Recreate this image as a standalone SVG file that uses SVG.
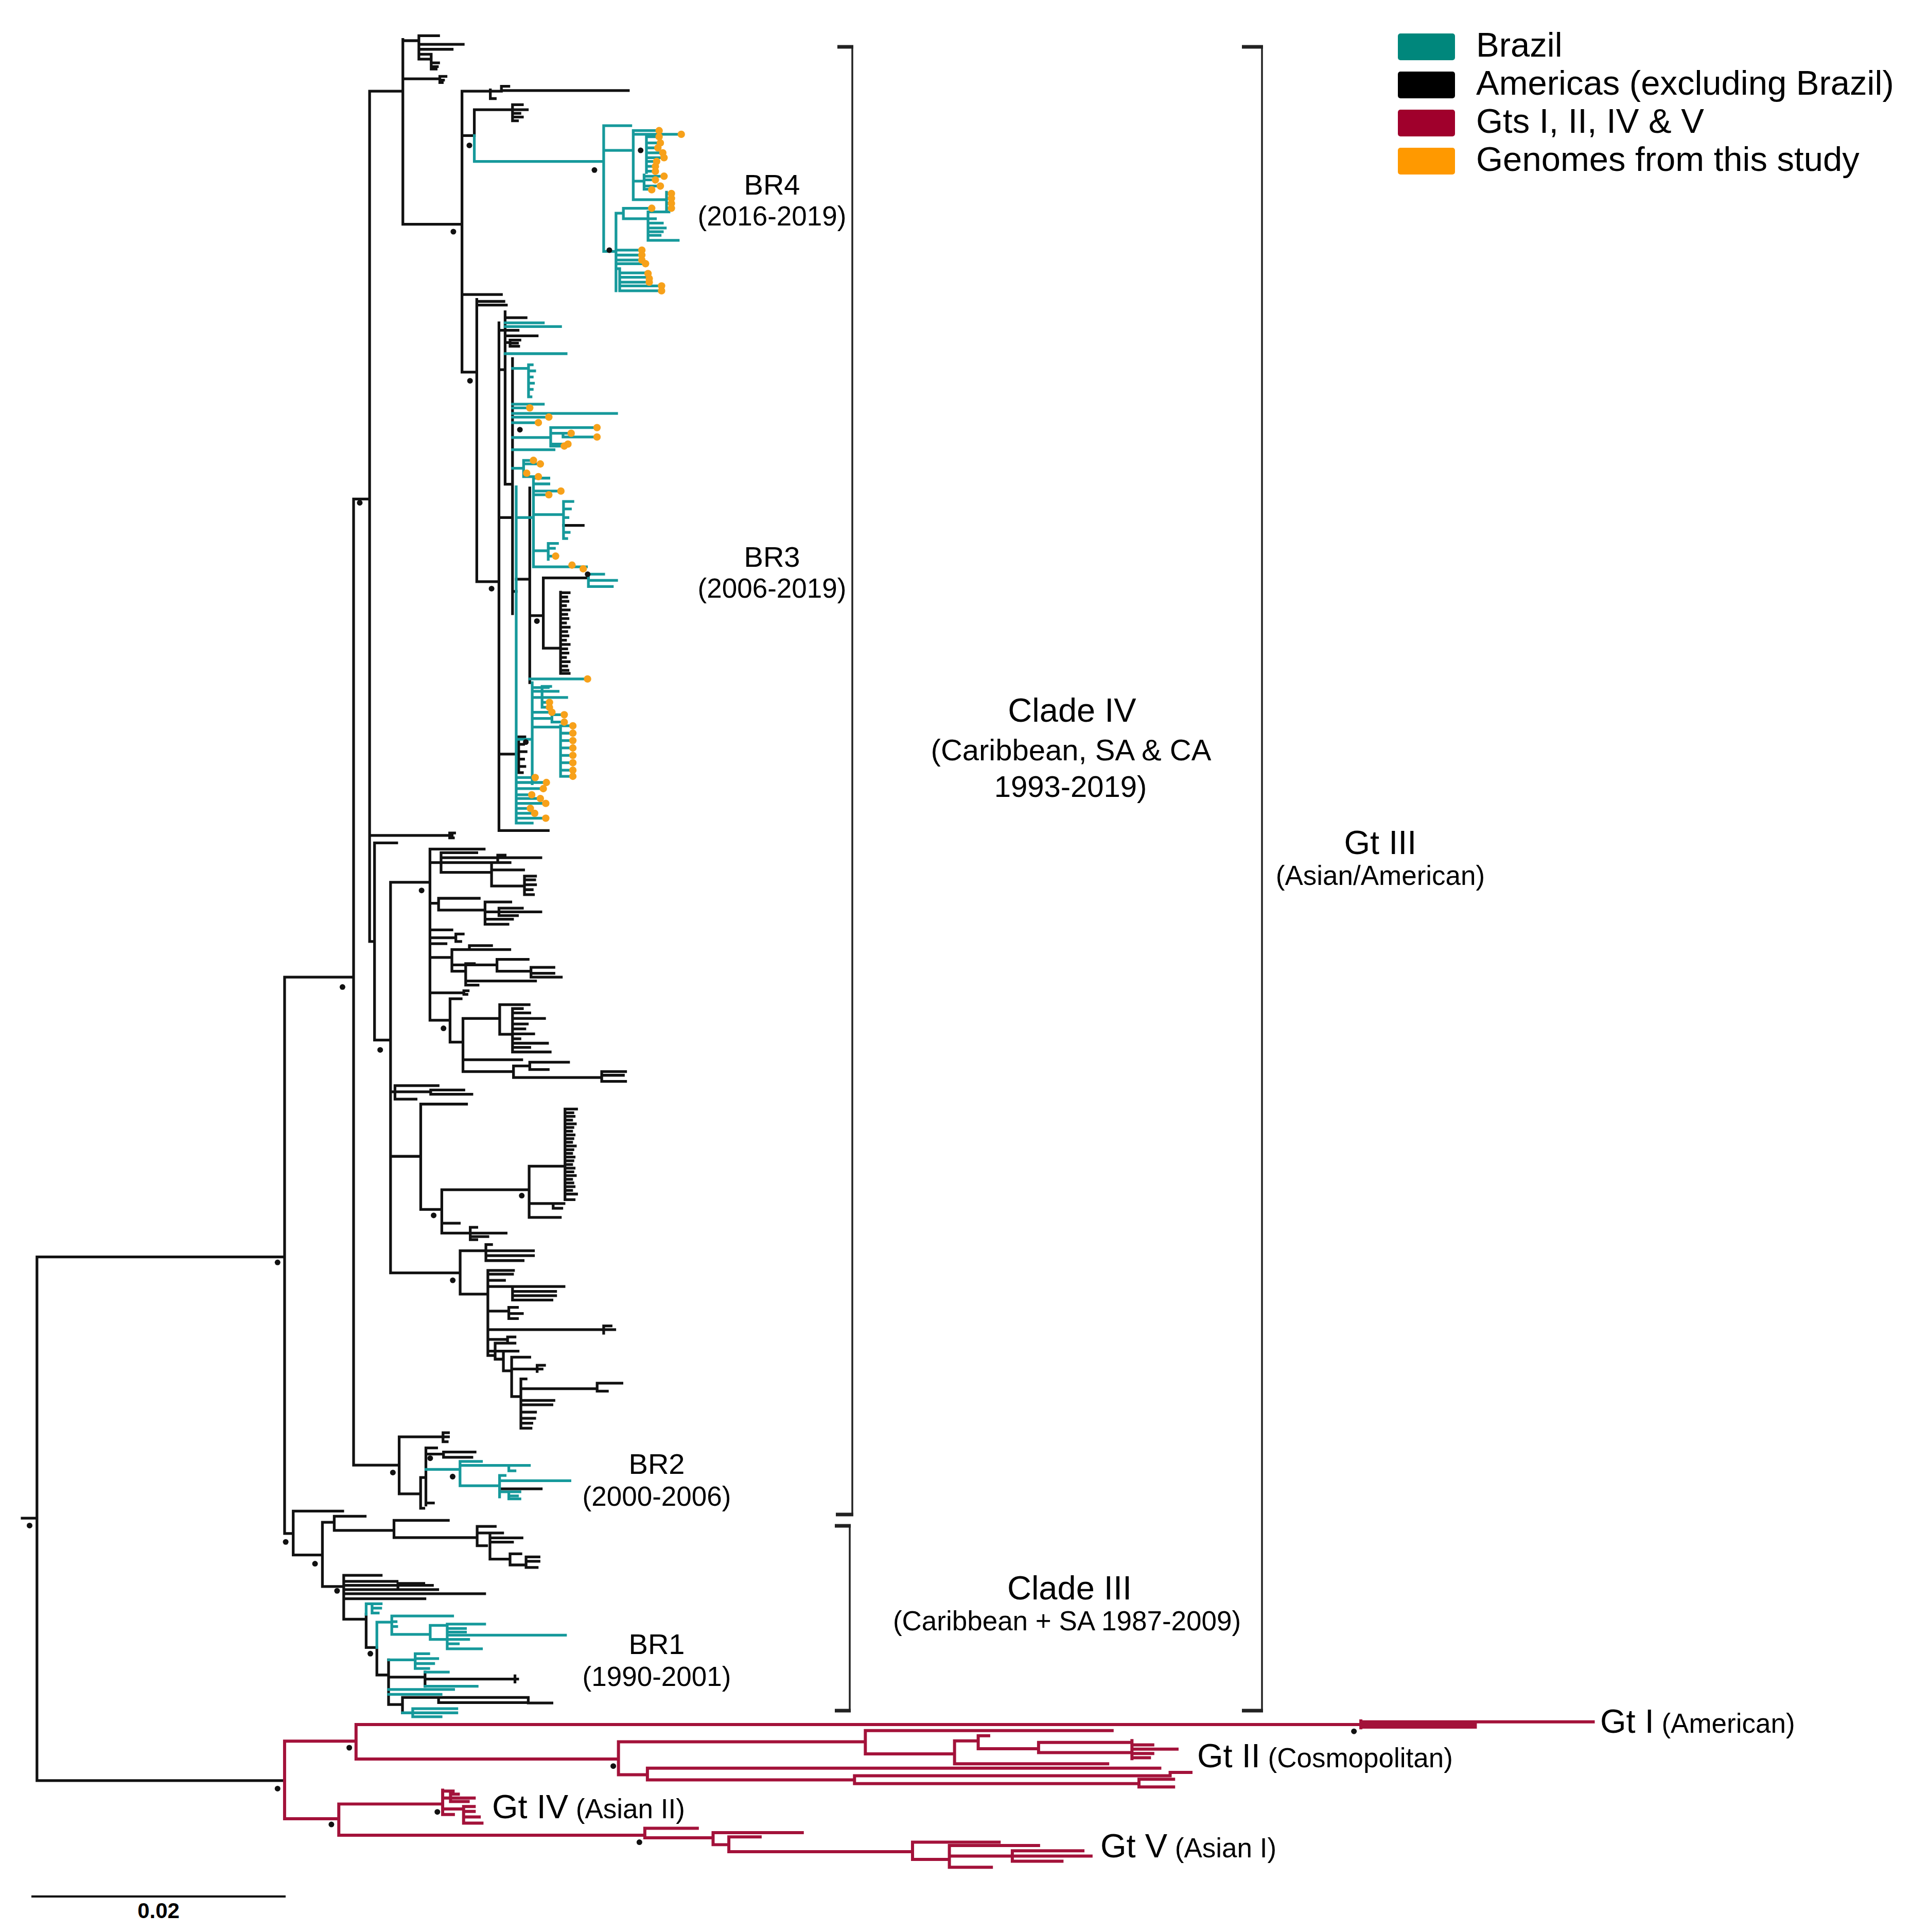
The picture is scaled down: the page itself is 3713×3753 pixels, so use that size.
<svg xmlns="http://www.w3.org/2000/svg" width="3713" height="3753" viewBox="0 0 3713 3753">
<style>
.k{fill:none;stroke:#111;stroke-width:2.2;stroke-linecap:square}
.t{fill:none;stroke:#16999b;stroke-width:2.2;stroke-linecap:square}
.r{fill:none;stroke:#a3123a;stroke-width:2.5;stroke-linecap:square}
.o{fill:#f7a11a}
.d{fill:#111}
.br{fill:none;stroke:#222;stroke-width:3.5}
.tk{stroke:#222;stroke-width:7}
text{font-family:"Liberation Sans",Arial,sans-serif;fill:#000}
.c{text-anchor:middle}
</style>
<rect width="3713" height="3753" fill="#fff"/>
<g id="connectors" transform="scale(2.3937)">
<path id="black-branches" class="k" d="M18 1232H30M30 1020V1445M30 1020H231M30 1445H231M231 793V1244.5M231 793H287M231 1244.5H238M287 405V1189M287 405H300M287 1189H324M300 74V764M300 74H327M300 678H367M365 676V680M365 676H369M365 680H368M300 764H304
M327 32V182M327 33H340M340 29V48M340 29H356M340 36H376M340 40H367M340 44H350M340 48H350M350 44V56M350 51H356M350 54H355M350 56H354M327 64H357M357 62V67M357 62H362M357 65H360M357 67H359M327 182H375
M375 74V302M375 74H398M398 73V80M398 80H402M398 74H407M407 70V74M407 70H413M407 73.5H510M375 110H385M385 89V110M385 89H416M416 85V98M416 85H424M416 89H428M416 92H422M416 95H424M416 98H420M375 239H407M375 302H387
M387 243V472M387 244.6H409M387 247.6H411M387 472H405M405 262V674M405 268H420.5M405 674H445M405 300H410M410 253V393M410 257.8H427M410 272.5H436M410 278H414M414 276V281M414 276H422M414 278.5H420M414 281H421M410 393H414M405 420H416M416 291V498M416 480H419M419 470H430M430 396V554M430 499.6H441M441 469V526M441 469H477.6M441 526H455M455 480.6V546.5
M455 481H462M455 484.5H460M455 488H461M455 491.5H459M455 495H462M455 498.5H460M455 502H461M455 505.5H459M455 509H462M455 512.5H460M455 516H461M455 519.5H459M455 523H462M455 526.5H460M455 530H461M455 533.5H459M455 537H462M455 540.5H460M455 544H461M455 546.5H462
M457.4 426.4H473.4M405 612H421M421 598V627M421 598H426M421 604H425M421 610H427M421 616H425M421 622H426M421 627H424
M304 684V844M304 684H322M304 844H317M317 716V1033M317 716H349
M349 689V828M349 689H393M349 700H358M358 692V708M358 692H387M358 696H439M404 694V698M404 694H410M358 700H414M358 708H399M399 702V719M399 706H425M399 719H425.7M425.7 711V726M425.7 711H434.7M425.7 714H434M425.7 718H434.7M425.7 722H432M425.7 726H433M349 733H356M356 729V738.6M356 729H389M356 738.6H393.7M393.7 732V750M393.7 732H414.6M393.7 740H405M405 737V743M405 737H424M405 740H439M405 743H420M393.7 746H416M393.7 750H412.3M349 754.6H366.8M349 761H370M370 758V764M370 758H376M370 764H374M349 765.8H362M349 777H366.8M366.8 770.6V788.2M366.8 770.6H413.8M381 767.4V770.6M381 767.4H399M366.8 783H403.4M403.4 778.6V788.2M403.4 778.6H428.7M403.4 788.2H431M431 785V793M431 785H449.6M431 789.8H449.6M431 793H455.6M366.8 788.2H378M378 782V799.4M378 782H385M378 796.1H434.7M378 799.4H388M349 805.7H376.5M376.5 804V807M376.5 804H380M376.5 807H379M349 828H365.3M365.3 810.5V845.7M365.3 810.5H374.3M365.3 845.7H375.8M375.8 826.5V869.6M375.8 826.5H405.6M405.6 815.3V839.3M405.6 815.3H429.5M405.6 839.3H416M416 818.5V853.7M416 818.5H424M416 822H430M416 826.5H442M416 831H428M416 835H426M416 839H433.2M416 843H422M416 846.6H444.4M416 850H430M416 853.7H446.6M375.8 860H423.5M375.8 869.6H416.8M416.8 865V874.4M416.8 865H430M430 862V868M430 862H461.5M430 868H445M416.8 874.4H488.4M488.4 869.6V877.6M488.4 869.6H507.8M488.4 872.6H506M488.4 877.6H507.8
M317 886H320.6M320.6 881V892M320.6 881H355.6M320.6 886H349.6M349.6 884.6V888M349.6 884.6H376.5M349.6 888H383M320.6 892H337.7M317 938.4H341.5M341.5 896V981.5M341.5 896H378.7M341.5 981.5H358.6M358.6 965.5V1000.7M358.6 965.5H429.5M429.5 946.4V988M429.5 946.4H458.6M458.6 900V973.5
M458.6 900H468M458.6 903H465M458.6 906H466M458.6 909H464M458.6 912H467M458.6 915H465M458.6 918H464M458.6 921H466M458.6 924H465M458.6 927H464M458.6 930H467M458.6 933H465M458.6 936H464M458.6 939H466M458.6 942H465M458.6 945H464M458.6 948H466M458.6 951H465M458.6 954H467M458.6 957H464M458.6 960H465M458.6 963H466M458.6 966H464M458.6 969H468M458.6 973.5H466
M429.5 976.7H457.8M449 976.7V980.5M449 980.5H456M429.5 988H454.8M358.6 992.7H372.8M358.6 1000.7H381.7M381.7 996V1006M381.7 996H387M381.7 1000.7H410.8M381.7 1003.5H396M381.7 1006H387
M317 1033H373.5M373.5 1015V1050.2M373.5 1015H394.4M394.4 1010V1023M394.4 1010H399M394.4 1015H433M394.4 1019H433M394.4 1023H424.6M373.5 1050.2H396M396 1031V1100M396 1031H416.8M396 1034H416M396 1039H409.5M396 1044H457.8M416 1044V1055M416 1048H451M416 1051.5H451M416 1055H448M396 1064H413M413 1061V1070M413 1061H420M413 1066H424M413 1070H420M396 1079H499M490 1076V1082M490 1076H496M396 1087H412M412 1085V1090M412 1085H418M412 1090H418M396 1096.5H420.5M396 1100H401.9M401.9 1090V1103M401.9 1090H410M401.9 1103H408.6M408.6 1096.5V1112.5M408.6 1112.5H415.3M415.3 1101.4V1133.3M415.3 1101.4H430M415.3 1111H440M436 1108V1113M436 1108H442M415.3 1133.3H422.8M422.8 1119V1159M422.8 1119H427M422.8 1127H484.7M484.7 1122.5V1129M484.7 1122.5H504.8M484.7 1129H493M422.8 1136.5H449.6M422.8 1140H448M422.8 1146H434.7M422.8 1151H434M422.8 1155H431.7M422.8 1159H431
M324 1166V1212.3M324 1166H359.6M359.6 1162.7V1170M359.6 1162.7H364M359.6 1166H364M359.6 1170H363M324 1212.3H341.4M341.4 1199V1224M341.4 1224H344M341.4 1199H345.7M345.7 1175V1221.4M345.7 1175H354.4M345.7 1180H360M360 1178.4V1182.6M360 1178.4H385.6M360 1182.6H383M345.7 1219.7H351.8M405.5 1208.2H439.3
M238 1226.3V1261.9M238 1226.3H278.2M238 1261.9H261.7M261.7 1235.4V1287.5M261.7 1235.4H271.3M271.3 1230.5V1242M271.3 1230.5H296.4M271.3 1242H319.8M319.8 1233.8V1247.8M319.8 1233.8H363.9M319.8 1247.8H387.3M387.3 1238.7V1254.4M387.3 1238.7H402M387.3 1244H397.7M397.7 1244V1265.2M397.7 1244H408M397.7 1248H423.7M397.7 1251.5H416M397.7 1265.2H414M414 1261V1270M414 1261H422.8M414 1270H427M427 1263.5V1272M427 1263.5H437.5M427 1267H437.5M427 1272H436M387.3 1254.4H395M261.7 1287.5H279M279 1278.4V1314M279 1278.4H309.4M279 1283.3H322.3M279 1286.6H351M323 1285V1288.5M323 1285H344M279 1290H355.3M279 1293.3H393.4M279 1297.4H344.9M279 1314H297.2M297.2 1310V1337M297.2 1337H305.9M305.9 1337V1359.3M305.9 1359.3H315.4M315.4 1347V1383.3M315.4 1361H345M345 1356.9V1368.4M345 1362.6H420.2M418 1360V1365M315.4 1383.3H326.7M326.7 1377.5V1390M326.7 1377.5H356M356 1377.5V1381.7M356 1377.5H428.8M428.8 1377.5V1382M428.8 1382H448M356 1381.7H428.8"/>
<path id="teal-branches" class="t" d="M385 110V131M385 131H490M490 102V204M490 102H512M490 122H514M514 106V162M514 106H534M514 109H524.7M524.7 109V140M524.7 109H552.6M524.7 111H534.8M524.7 116H535.8M524.7 120H533.9M524.7 124H537.6M524.7 128H539.4M524.7 131H533M524.7 135H532M524.7 139H532M514 147H522.8M522.8 142V153.6M522.8 143H539.4M522.8 146H532M522.8 151H535.8M522.8 153.6H529M514 162H541M541 156V170M541 157H545M541 161H545M541 165H545M541 169H545
M490 204H500M500 173V236M500 173H506M506 169V177.5M506 169H528.4M506 177.5H526M526 172V195M526 172H543M526 177.5H532M526 181H537.6M526 185H540M526 188H537.6M526 191H535.8M526 195H550.5M500 203H521M500 207H521M500 211H521M500 214H524.7M500 218H503M503 218V236M503 221.5H526M503 225H527M503 229H527M503 232H537M503 236H537
M410 262H441M410 265H455M410 287H459.5M416 299H429M429 296V322M429 296H432M429 301H434M429 306H432M429 311H433M429 316H432M429 322H431M416 328H441M416 331H430M416 335.5H500.5M416 338.5H445.5M416 343H437M416 355H447M447 347V362M447 347H484.6M447 351.6H463.6M457 351.6V354.6M457 354.6H484.6M447 360.4H461M447 362H458M416 365H449.7M416 380H425M425 373.6V386.8M425 373.6H433M425 376.5H438.6M425 384H427.5M425 386.8H437
M419 395V668M419 420H433M433 388V460M433 388H445.5M433 392.7H445.5M433 398.5H455.3M433 401.5H445.5M433 417.6H457.4M457.4 407V437M457.4 407H465M457.4 413H463M457.4 420H461M457.4 432H462M457.4 437H460M433 447H445M445 441V454M445 441H452.5M445 445H450M445 451.3H451M433 460H476M477.6 466V476M477.6 466H490M477.6 471H500.5M477.6 476H497M430 551H476.9
M419 600H432M432 554V636M432 558H445M432 561H440M440 557V574M440 557H447M440 561H453M432 566H460M440 570H446M440 574H446M432 578H448M432 583H448M448 580V586M448 580H458M448 586H458M432 590H455M455 589V630M455 589H465M455 595H465M455 601H465M455 607H465M455 613H465M455 619H465M455 625H465M455 630H465
M419 631H434.4M419 635H443.5M419 640H441M419 645H431.6M419 648H438.6M419 652H443M419 656H430.5M419 660H434M419 664H443M419 668H432
M345.7 1192.5H373.4M373.4 1186V1205.7M373.4 1186H390.8M373.4 1189.2H429.7M413 1189.2V1193.6M413 1193.6H418M373.4 1205.7H405.5M405.5 1197.4V1214.8M405.5 1197.4H410M405.5 1201.6H462.6M405.5 1210.6H413M413 1210.6V1216.4M413 1210.6H422M413 1214H420M413 1216.4H422
M297.2 1301.5V1310M297.2 1301.5H309.4M302 1301.5V1309M302 1305H309M302 1309H307M305.9 1316.4V1337M305.9 1316.4H318M318 1311.4V1326.3M318 1311.4H367.4M318 1316H321.5M318 1320H322M318 1326.3H349.2M349.2 1319V1330.4M349.2 1319H363M363 1318V1338M363 1318H393.4M363 1321.5H377.8M363 1324.5H377.8M363 1327H459M349.2 1330.4H380.4M363 1334H372M363 1338H390.8M315.4 1347H337M337 1342V1354M337 1342H348M337 1346H355.3M337 1350H352M337 1354H348M345 1356.9H363.9M345 1368.4H387.3M315.4 1371H368.2M315.4 1375H358M326.7 1390H335M335 1386.6V1393.2M335 1386.6H370.8M335 1390H370.8M335 1393.2H358"/>
<path id="red-branches" class="r" d="M231 1413V1476M231 1413H289M289 1399.5V1427.5M289 1399.5H1104.6M1104.6 1396.6V1402.1M1104.6 1397.3H1293.2M1104.6 1399.4H1197.5M1104.6 1401.6H1197.5M289 1427.5H502M502 1413.5V1440.2M502 1413.5H702.4M702.4 1404.4V1423.3M702.4 1404.4H902.7M702.4 1423.3H774.8M774.8 1412.8V1431.4M774.8 1412.8H794M794 1408.6V1419.1M794 1408.6H802.5M794 1419.1H843M843 1414V1422.3M843 1414H918.8M843 1422.3H918.8M918.8 1412.6V1427.2M918.8 1416H935.7M918.8 1419.5H955.4M918.8 1423H935.7M918.8 1426.5H933M774.8 1431.4H899.1M502 1440.2H525.5M525.5 1434.9V1444.4M525.5 1434.9H941.4M525.5 1444.4H693.6M693.6 1441.1V1447.4M693.6 1441.1H949.8M949.8 1438.4V1441.1M949.8 1438.4H966.7M693.6 1447.4H924.5M924.5 1443.9V1450.2M924.5 1443.9H952.6M924.5 1450.2H952.6
M231 1476H275M275 1464V1489.3M275 1464H359.3M359.3 1452.8V1472.5M359.3 1453.5H367.8M359.3 1459.1H365.7M365.7 1456V1462M365.7 1456H372M365.7 1459.1H384.9M365.7 1462H380M359.3 1468H376.3M376.3 1466V1479.5M376.3 1466H384.9M376.3 1470H384.9M376.3 1474.5H389M376.3 1479.5H391.2M359.3 1472.5H368M275 1489.3H523.4M523.4 1483.7V1491.4M523.4 1483.7H566M523.4 1491.4H578.8M578.8 1487.2V1497M578.8 1487.2H651.2M578.8 1497H591.6M591.6 1490.7V1502.7M591.6 1490.7H617M591.6 1502.7H740.7M740.7 1495V1509M740.7 1495H811M740.7 1509H770.6M770.6 1497.7V1515.3M770.6 1497.7H843M770.6 1506.2H821.7M821.7 1502V1510.4M821.7 1502H879M821.7 1506.2H885.6M821.7 1510.4H862M770.6 1515.3H804.7"/>
<g id="study-genomes" class="o">
<circle cx="535" cy="106" r="3"/><circle cx="553" cy="109" r="3"/><circle cx="535" cy="111" r="3"/><circle cx="536" cy="116" r="3"/><circle cx="534" cy="120" r="3"/><circle cx="538" cy="124" r="3"/><circle cx="539" cy="128" r="3"/><circle cx="533" cy="131" r="3"/><circle cx="532" cy="135" r="3"/><circle cx="532" cy="139" r="3"/><circle cx="539" cy="143" r="3"/><circle cx="532" cy="146" r="3"/><circle cx="536" cy="151" r="3"/><circle cx="529" cy="154" r="3"/><circle cx="545" cy="157" r="3"/><circle cx="545" cy="161" r="3"/><circle cx="545" cy="165" r="3"/><circle cx="545" cy="169" r="3"/><circle cx="529" cy="169" r="3"/><circle cx="521" cy="203" r="3"/><circle cx="521" cy="207" r="3"/><circle cx="521" cy="211" r="3"/><circle cx="524" cy="214" r="3"/><circle cx="526" cy="222" r="3"/><circle cx="527" cy="226" r="3"/><circle cx="527" cy="229" r="3"/><circle cx="537" cy="232" r="3"/><circle cx="537" cy="236" r="3"/>
<circle cx="430" cy="331" r="3"/><circle cx="445.5" cy="338.5" r="3"/><circle cx="437" cy="343" r="3"/><circle cx="484.6" cy="347" r="3"/><circle cx="463.6" cy="351.6" r="3"/><circle cx="484.6" cy="354.6" r="3"/><circle cx="461" cy="360.4" r="3"/><circle cx="458" cy="362" r="3"/><circle cx="433" cy="373.6" r="3"/><circle cx="438.6" cy="376.5" r="3"/><circle cx="427.5" cy="384" r="3"/><circle cx="437" cy="386.8" r="3"/><circle cx="455.3" cy="398.5" r="3"/><circle cx="445.5" cy="401.5" r="3"/><circle cx="451" cy="451.3" r="3"/><circle cx="464.3" cy="458.6" r="3"/><circle cx="473.4" cy="461.6" r="3"/><circle cx="476.9" cy="551" r="3"/><circle cx="446" cy="570" r="3"/><circle cx="446" cy="574" r="3"/><circle cx="448" cy="578" r="3"/><circle cx="458" cy="580" r="3"/><circle cx="458" cy="586" r="3"/><circle cx="465" cy="589" r="3"/><circle cx="465" cy="595" r="3"/><circle cx="465" cy="601" r="3"/><circle cx="465" cy="607" r="3"/><circle cx="465" cy="613" r="3"/><circle cx="465" cy="619" r="3"/><circle cx="465" cy="625" r="3"/><circle cx="465" cy="630" r="3"/><circle cx="434.4" cy="631" r="3"/><circle cx="443.5" cy="635" r="3"/><circle cx="441" cy="640" r="3"/><circle cx="431.6" cy="645" r="3"/><circle cx="438.6" cy="648" r="3"/><circle cx="443" cy="652" r="3"/><circle cx="430.5" cy="656" r="3"/><circle cx="434" cy="660" r="3"/><circle cx="443" cy="664" r="3"/>
</g>
<g id="support-dots" class="d">
<circle cx="24" cy="1238" r="2.3"/><circle cx="225.3" cy="1024.5" r="2.3"/><circle cx="225.3" cy="1451.5" r="2.3"/><circle cx="278" cy="801" r="2.3"/><circle cx="292" cy="408" r="2.3"/><circle cx="308.6" cy="852" r="2.3"/><circle cx="342.2" cy="722.6" r="2.3"/><circle cx="360" cy="834.5" r="2.3"/><circle cx="352" cy="986.3" r="2.3"/><circle cx="423.5" cy="970.3" r="2.3"/><circle cx="367.5" cy="1039" r="2.3"/><circle cx="368" cy="188" r="2.3"/><circle cx="381" cy="118" r="2.3"/><circle cx="482.5" cy="138" r="2.3"/><circle cx="520" cy="122" r="2.3"/><circle cx="494.6" cy="203" r="2.3"/><circle cx="381.5" cy="309" r="2.3"/><circle cx="399" cy="477.7" r="2.3"/><circle cx="422" cy="348.7" r="2.3"/><circle cx="435.8" cy="504" r="2.3"/><circle cx="477" cy="466" r="2.3"/><circle cx="426.8" cy="602.2" r="2.3"/><circle cx="318.9" cy="1195" r="2.3"/><circle cx="349.2" cy="1183.4" r="2.3"/><circle cx="367.4" cy="1198.3" r="2.3"/><circle cx="231.9" cy="1251.3" r="2.3"/><circle cx="255.7" cy="1269" r="2.3"/><circle cx="273.6" cy="1291" r="2.3"/><circle cx="300.6" cy="1342" r="2.3"/><circle cx="283.5" cy="1418.3" r="2.3"/><circle cx="497.8" cy="1433.2" r="2.3"/><circle cx="1099" cy="1405" r="2.3"/><circle cx="355" cy="1470.4" r="2.3"/><circle cx="269" cy="1480.6" r="2.3"/><circle cx="519" cy="1495" r="2.3"/>
</g>
</g>
<g id="bracket-clade-iv"><path class="br" d="M1656 91V2942"/><path class="tk" d="M1627 91H1658M1624 2942H1658"/></g>
<g id="bracket-clade-iii"><path class="br" d="M1651 2964V3323"/><path class="tk" d="M1622 2964H1653M1622 3323H1653"/></g>
<g id="bracket-gt-iii"><path class="br" d="M2452 91V3323"/><path class="tk" d="M2413 91H2454M2413 3323H2454"/></g>
<g id="legend">
<g id="legend-brazil"><rect x="2716" y="65" width="111" height="52" rx="5" fill="#00877c"/><text x="2868" y="110" font-size="67">Brazil</text></g>
<g id="legend-americas"><rect x="2716" y="139" width="111" height="52" rx="5" fill="#000"/><text x="2868" y="184" font-size="67">Americas (excluding Brazil)</text></g>
<g id="legend-gts"><rect x="2716" y="213" width="111" height="52" rx="5" fill="#a0002c"/><text x="2868" y="258" font-size="67">Gts I, II, IV &amp; V</text></g>
<g id="legend-genomes"><rect x="2716" y="287" width="111" height="52" rx="5" fill="#ff9900"/><text x="2868" y="332" font-size="67">Genomes from this study</text></g>
</g>
<g id="label-br4"><text class="c" x="1500" y="378" font-size="56">BR4</text><text class="c" x="1500" y="438" font-size="53">(2016-2019)</text></g>
<g id="label-br3"><text class="c" x="1500" y="1101" font-size="56">BR3</text><text class="c" x="1500" y="1161" font-size="53">(2006-2019)</text></g>
<g id="label-clade-iv"><text class="c" x="2083" y="1402" font-size="65">Clade IV</text><text class="c" x="2081" y="1477" font-size="58">(Caribbean, SA &amp; CA</text><text class="c" x="2080" y="1548" font-size="58">1993-2019)</text></g>
<g id="label-gt-iii"><text class="c" x="2682" y="1659" font-size="65">Gt III</text><text class="c" x="2682" y="1719" font-size="53">(Asian/American)</text></g>
<g id="label-br2"><text class="c" x="1276" y="2863" font-size="56">BR2</text><text class="c" x="1276" y="2925" font-size="53">(2000-2006)</text></g>
<g id="label-br1"><text class="c" x="1276" y="3213" font-size="56">BR1</text><text class="c" x="1276" y="3275" font-size="53">(1990-2001)</text></g>
<g id="label-clade-iii"><text class="c" x="2078" y="3107" font-size="65">Clade III</text><text class="c" x="2073" y="3167" font-size="53">(Caribbean + SA 1987-2009)</text></g>
<g id="label-gt-i"><text x="3109" y="3366" font-size="65">Gt I<tspan font-size="53"> (American)</tspan></text></g>
<g id="label-gt-ii"><text x="2326" y="3433" font-size="65">Gt II<tspan font-size="53"> (Cosmopolitan)</tspan></text></g>
<g id="label-gt-iv"><text x="956" y="3532" font-size="65">Gt IV<tspan font-size="53"> (Asian II)</tspan></text></g>
<g id="label-gt-v"><text x="2138" y="3608" font-size="65">Gt V<tspan font-size="53"> (Asian I)</tspan></text></g>
<g id="scale-bar"><path d="M61 3684H555" stroke="#000" stroke-width="4"/><text class="c" x="308" y="3726" font-size="42" font-weight="bold">0.02</text></g>
</svg>
